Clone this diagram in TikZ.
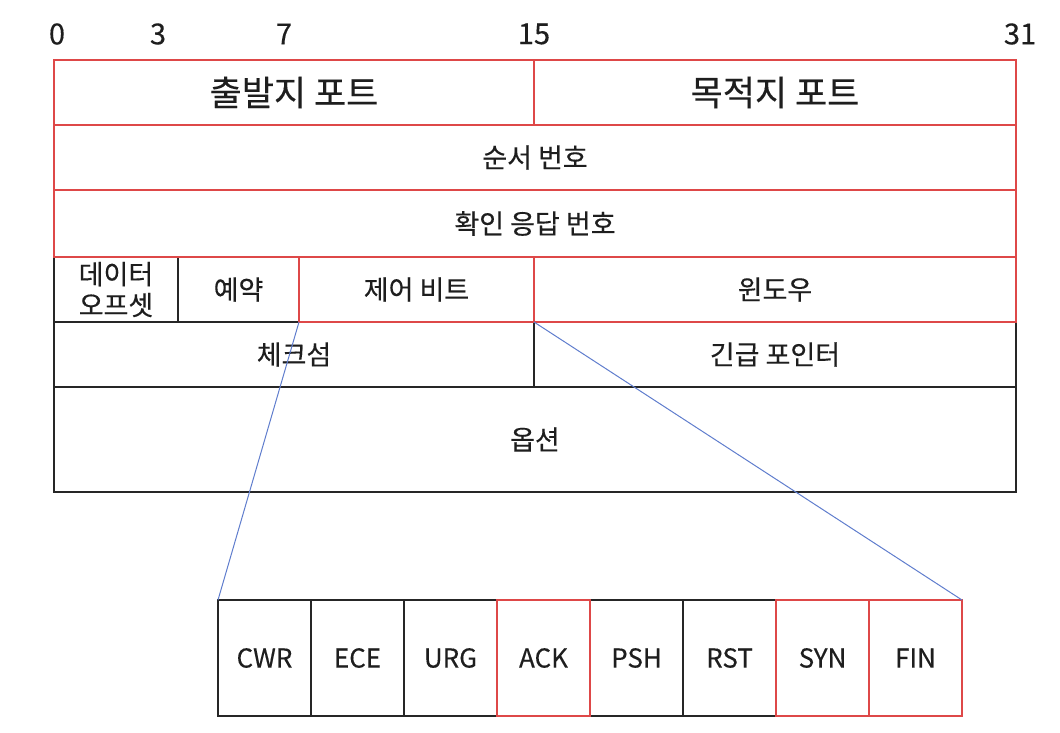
\documentclass[tikz,border=0pt]{standalone}
\usepackage{fontspec}
\setmainfont{Noto Sans CJK KR}[FakeBold=0.3]
\definecolor{myred}{RGB}{222,72,72}
\definecolor{myblue}{RGB}{95,125,205}
\definecolor{txt}{RGB}{30,30,30}
\begin{document}
\begin{tikzpicture}[x=1pt,y=-1pt,
  cell/.style={rectangle,inner sep=0pt,outer sep=0pt,text=txt,font=\fontsize{27}{31}\selectfont},
  blk/.style={cell,draw=black!85,line width=1.1pt},
  rd/.style={cell,draw=myred,line width=1.3pt},
  flag/.style={font=\fontsize{26}{30}\selectfont,minimum width=93pt,minimum height=116pt},
  big/.style={font=\fontsize{35}{40}\selectfont},
  bit/.style={text=txt,font=\fontsize{29}{33}\selectfont,inner sep=0pt},
  blueline/.style={draw=myblue,line width=1pt}]
\useasboundingbox (0,0) rectangle (1060,732);
% bit numbers
\node[bit] (b0) at (57,34) {0};
\node[bit] (b3) at (158,34) {3};
\node[bit] (b7) at (284,34) {7};
\node[bit] (b15) at (534,34) {15};
\node[bit] (b31) at (1020,34) {31};
% black cells
\node[blk,minimum width=124pt,minimum height=65pt,align=center,font=\fontsize{27}{31}\selectfont] (doff) at (116,289.5) {데이터\\오프셋};
\node[blk,minimum width=121pt,minimum height=65pt] (rsv) at (238.5,289.5) {예약};
\node[blk,minimum width=480pt,minimum height=65pt] (chk) at (294,354.5) {체크섬};
\node[blk,minimum width=482pt,minimum height=65pt] (urg) at (775,354.5) {긴급 포인터};
\node[blk,minimum width=962pt,minimum height=105pt] (opt) at (535,439.5) {옵션};
% red cells
\node[rd,big,minimum width=480pt,minimum height=65pt] (src) at (294,92.5) {출발지 포트};
\node[rd,big,minimum width=482pt,minimum height=65pt] (dst) at (775,92.5) {목적지 포트};
\node[rd,minimum width=962pt,minimum height=65pt] (seq) at (535,157.5) {순서 번호};
\node[rd,minimum width=962pt,minimum height=67pt] (ack) at (535,223.5) {확인 응답 번호};
\node[rd,minimum width=235pt,minimum height=65pt] (ctrl) at (416.5,289.5) {제어 비트};
\node[rd,minimum width=482pt,minimum height=65pt] (win) at (775,289.5) {윈도우};
% flag cells
\node[blk,flag] (cwr) at (264.5,658) {CWR};
\node[blk,flag] (ece) at (357.5,658) {ECE};
\node[blk,flag] (urgf) at (450.5,658) {URG};
\node[blk,flag] (psh) at (636.5,658) {PSH};
\node[blk,flag] (rst) at (729.5,658) {RST};
\node[rd,flag] (ackf) at (543.5,658) {ACK};
\node[rd,flag] (syn) at (822.5,658) {SYN};
\node[rd,flag] (fin) at (915.5,658) {FIN};
% zoom lines
\draw[blueline] (ctrl.south west) -- (cwr.north west);
\draw[blueline] (ctrl.south east) -- (fin.north east);
\end{tikzpicture}
\end{document}
